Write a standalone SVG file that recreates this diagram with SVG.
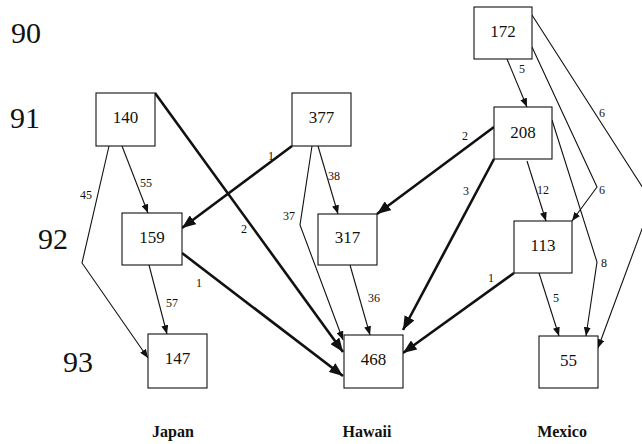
<svg xmlns="http://www.w3.org/2000/svg" width="642" height="444" viewBox="0 0 642 444">
<style>
.box{fill:#fff;stroke:#111;stroke-width:1.1}
.bt{font-family:"Liberation Serif","Times New Roman",serif;font-size:17px;fill:#111;text-anchor:middle}
.yr{font-family:"Liberation Serif","Times New Roman",serif;font-size:30px;fill:#111}
.col{font-family:"Liberation Serif","Times New Roman",serif;font-size:16px;font-weight:bold;fill:#111;text-anchor:middle}
.el{font-family:"Liberation Serif","Times New Roman",serif;font-size:12px;fill:#111}
.thin{fill:none;stroke:#111;stroke-width:1.1;marker-end:url(#ah)}
.thick{fill:none;stroke:#111;stroke-width:2.6;marker-end:url(#ahb)}
</style>
<defs>
<marker id="ah" viewBox="0 0 10 8" refX="10" refY="4" markerWidth="9" markerHeight="7" markerUnits="userSpaceOnUse" orient="auto"><path d="M0,0 L10,4 L0,8 z" fill="#111"/></marker>
<marker id="ahb" viewBox="0 0 10 8" refX="10" refY="4" markerWidth="14" markerHeight="11" markerUnits="userSpaceOnUse" orient="auto"><path d="M0,0 L10,4 L0,8 z" fill="#111"/></marker>
</defs>
<rect width="642" height="444" fill="#fff"/>
<g id="years">
<text class="yr" x="11" y="43">90</text>
<text class="yr" x="10" y="128">91</text>
<text class="yr" x="38" y="249">92</text>
<text class="yr" x="63" y="372">93</text>
</g>
<g id="columns">
<text class="col" x="173" y="437">Japan</text>
<text class="col" x="367" y="437">Hawaii</text>
<text class="col" x="562" y="437">Mexico</text>
</g>
<g id="connectors">
<polyline class="thin" points="122,146 148,213"/>
<polyline class="thin" points="109,146 82,263 148,358"/>
<polyline class="thin" points="149,265 167,334"/>
<polyline class="thin" points="318,146 338,214"/>
<polyline class="thin" points="312,146 300,225 343,340"/>
<polyline class="thin" points="350,265 370,335"/>
<polyline class="thin" points="507,59 527,107"/>
<polyline class="thin" points="527,161 546,221"/>
<polyline class="thin" points="532,47 597,187 572,221"/>
<polyline class="thin" points="532,15 652,202 598,348"/>
<polyline class="thin" points="552,120 597,262 586,336"/>
<polyline class="thin" points="539,273 559,336"/>
<polyline class="thick" points="155,93 343,352"/>
<polyline class="thick" points="182,253 343,376"/>
<polyline class="thick" points="292,146 182,228"/>
<polyline class="thick" points="494,127 377,214"/>
<polyline class="thick" points="494,159 403,330"/>
<polyline class="thick" points="514,273 403,353"/>
<text class="el" x="140" y="187">55</text>
<text class="el" x="80" y="199">45</text>
<text class="el" x="166" y="307">57</text>
<text class="el" x="241" y="233">2</text>
<text class="el" x="196" y="287">1</text>
<text class="el" x="268" y="160">1</text>
<text class="el" x="328" y="180">38</text>
<text class="el" x="283" y="220">37</text>
<text class="el" x="368" y="302">36</text>
<text class="el" x="462" y="140">2</text>
<text class="el" x="463" y="195">3</text>
<text class="el" x="519" y="73">5</text>
<text class="el" x="537" y="194">12</text>
<text class="el" x="599" y="194">6</text>
<text class="el" x="599" y="117">6</text>
<text class="el" x="601" y="267">8</text>
<text class="el" x="553" y="302">5</text>
<text class="el" x="488" y="282">1</text>
</g>
<g id="n140"><rect class="box" x="96" y="93" width="59" height="53"/><text class="bt" x="125.5" y="123">140</text></g>
<g id="n377"><rect class="box" x="292" y="93" width="59" height="53"/><text class="bt" x="321.5" y="123">377</text></g>
<g id="n172"><rect class="box" x="474" y="7" width="58" height="52"/><text class="bt" x="503" y="37">172</text></g>
<g id="n208"><rect class="box" x="494" y="107" width="58" height="52"/><text class="bt" x="523" y="138">208</text></g>
<g id="n159"><rect class="box" x="122" y="213" width="60" height="52"/><text class="bt" x="152" y="243">159</text></g>
<g id="n317"><rect class="box" x="318" y="214" width="59" height="51"/><text class="bt" x="347.5" y="243">317</text></g>
<g id="n113"><rect class="box" x="514" y="221" width="58" height="52"/><text class="bt" x="543" y="251">113</text></g>
<g id="n147"><rect class="box" x="148" y="334" width="59" height="54"/><text class="bt" x="177.5" y="364">147</text></g>
<g id="n468"><rect class="box" x="344" y="335" width="59" height="53"/><text class="bt" x="373.5" y="365">468</text></g>
<g id="n55"><rect class="box" x="539" y="336" width="59" height="52"/><text class="bt" x="568.5" y="366">55</text></g>
</svg>
